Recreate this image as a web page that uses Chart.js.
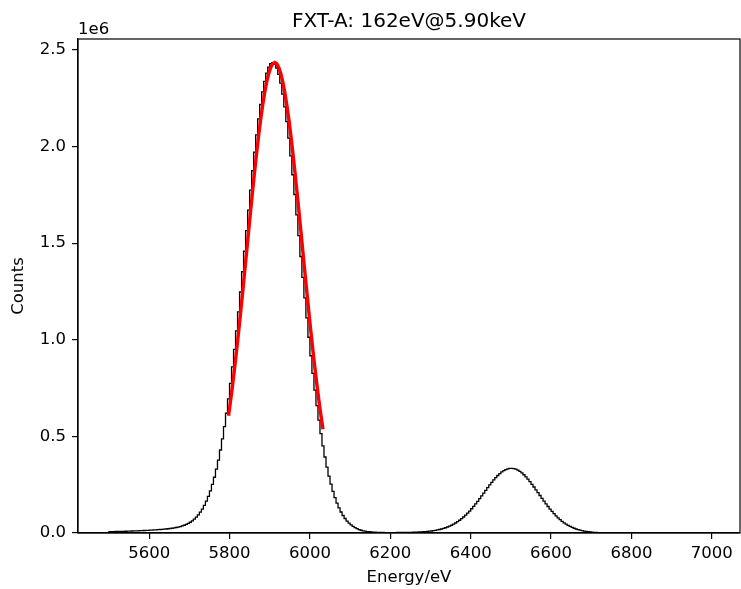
<!DOCTYPE html>
<html>
<head>
<meta charset="utf-8">
<script src="https://cdn.jsdelivr.net/npm/chart.js@4.4.1/dist/chart.umd.min.js"></script>
<style>
  body { margin: 0; background: #fff; }
  canvas { display: block; }
</style>
</head>
<body>
<canvas id="spectrum" width="741" height="589"></canvas>
<script>
// histogram: 5 eV bins starting at 5500 eV
const binStart = 5500;
const binWidth = 5;
const counts = [
  7000, 7200, 7400, 7600, 7800, 8000, 8250, 8500, 8750, 9000,
  9500, 9900, 10300, 10710, 11110, 11510, 12020, 12520, 13040, 13550,
  14070, 14700, 15340, 16000, 16670, 17370, 18100, 18870, 19800, 20700,
  21900, 23210, 24670, 26420, 28410, 30680, 33320, 36400, 40020, 44300,
  49450, 55650, 62950, 71570, 81710, 93610, 107560, 123860, 142800, 164590,
  189730, 218520, 251360, 288560, 330460, 377370, 429580, 487270, 550640, 619730,
  694550, 774590, 860070, 950610, 1045750, 1144920, 1247340, 1352180, 1458450, 1565050,
  1670960, 1774710, 1875170, 1970990, 2060900, 2143620, 2217920, 2282840, 2337240, 2380290,
  2411360, 2429560, 2435000, 2427360, 2406860, 2373690, 2328540, 2272140, 2205320, 2129120,
  2044100, 1952190, 1854470, 1752210, 1646760, 1539350, 1431250, 1323580, 1217440, 1113720,
  1013350, 917410, 826070, 739790, 658950, 583930, 514640, 451170, 393480, 341270,
  294460, 252660, 215660, 183120, 154730, 130090, 108800, 90560, 75060, 61910,
  50910, 41570, 33850, 27450, 22150, 17850, 14320, 11500, 9220, 7380,
  6460, 5320, 4480, 3830, 3330, 2940, 2650, 2490, 2390, 2330,
  2320, 2320, 2370, 2440, 2530, 2640, 2760, 2900, 3080, 3260,
  3470, 3690, 4090, 4510, 4980, 5490, 6060, 6710, 7450, 8300,
  9270, 10390, 11990, 13790, 15830, 18150, 20780, 23760, 27140, 30970,
  35290, 40150, 45600, 51680, 58430, 65890, 74080, 82840, 92380, 102680,
  113740, 125530, 137800, 150680, 164110, 177980, 192180, 206380, 220650, 234820,
  248720, 262200, 274870, 286760, 297700, 307520, 316090, 323050, 328510, 332360,
  334540, 335000, 333540, 330360, 325510, 319050, 311090, 301520, 290700, 278760,
  265870, 252200, 238120, 223620, 208850, 193980, 179180, 164780, 150710, 137080,
  124000, 111530, 99840, 88880, 78680, 69240, 60570, 52830, 45820, 39520,
  33890, 28890, 24540, 20730, 17410, 14540, 12070, 9990, 8220, 6730,
  5480, 4430, 3585, 2890, 2315, 1850, 1465, 1160, 915, 710,
  555, 420, 325, 250, 195, 150, 115, 87, 64, 46,
  31, 19, 14, 10, 7, 5, 4, 3, 2, 2,
  1, 1, 0, 0, 0, 0, 0, 0, 0, 0,
  0, 0, 0, 0, 0, 0, 0, 0, 0, 0,
  0, 0, 0, 0, 0, 0, 0, 0, 0, 0
];

// gaussian fit of the Mn K-alpha line
const fitEnergy = [
  5797.5, 5802.5, 5807.5, 5812.5, 5817.5, 5822.5, 5827.5, 5832.5, 5837.5, 5842.5,
  5847.5, 5852.5, 5857.5, 5862.5, 5867.5, 5872.5, 5877.5, 5882.5, 5887.5, 5892.5,
  5897.5, 5902.5, 5907.5, 5912.5, 5917.5, 5922.5, 5927.5, 5932.5, 5937.5, 5942.5,
  5947.5, 5952.5, 5957.5, 5962.5, 5967.5, 5972.5, 5977.5, 5982.5, 5987.5, 5992.5,
  5997.5, 6002.5, 6007.5, 6012.5, 6017.5, 6022.5, 6027.5, 6032.5
];
const fitCounts = [
  607170, 683330, 764970, 851920, 943760, 1040040, 1140210, 1243430, 1348820, 1455500,
  1562440, 1668440, 1772290, 1872730, 1968530, 2058380, 2141050, 2215410, 2280300, 2334820,
  2378140, 2409550, 2428620, 2435000, 2428620, 2409550, 2378140, 2334820, 2280300, 2215410,
  2141050, 2058380, 1968530, 1872730, 1772290, 1668440, 1562440, 1455500, 1348820, 1243430,
  1140210, 1040040, 943760, 851920, 764970, 683330, 607170, 536670
];

const xTicks = [5600, 5800, 6000, 6200, 6400, 6600, 6800, 7000];
const yTicks = [0, 500000, 1000000, 1500000, 2000000, 2500000];
const yTickLabels = ['0.0', '0.5', '1.0', '1.5', '2.0', '2.5'];

const titleText = 'FXT-A: 162eV@5.90keV';
const FONT = 'DejaVu Sans';

// step outline like matplotlib histtype='step'
const histPoints = [{ x: binStart, y: 0 }];
counts.forEach((c, i) => histPoints.push({ x: binStart + i * binWidth, y: c }));
const binEnd = binStart + counts.length * binWidth;
histPoints.push({ x: binEnd, y: counts[counts.length - 1] });
histPoints.push({ x: binEnd, y: 0 });

const fitPoints = fitEnergy.map((e, i) => ({ x: e, y: fitCounts[i] }));

const frameAndText = {
  id: 'frameAndText',
  afterDraw(chart) {
    const { ctx, chartArea: a } = chart;
    ctx.save();
    ctx.strokeStyle = '#000';
    ctx.lineWidth = 1.2;
    ctx.strokeRect(a.left, a.top, a.right - a.left, a.bottom - a.top);
    ctx.fillStyle = '#000';
    ctx.font = '20px "' + FONT + '"';
    ctx.textAlign = 'center';
    ctx.textBaseline = 'alphabetic';
    ctx.fillText(titleText, (a.left + a.right) / 2, 27);
    ctx.font = '16.5px "' + FONT + '"';
    ctx.textAlign = 'left';
    ctx.fillText('1e6', a.left, 34);
    ctx.restore();
  }
};

const ctx = document.getElementById('spectrum').getContext('2d');
new Chart(ctx, {
  type: 'line',
  data: {
    datasets: [
      {
        data: fitPoints,
        borderColor: '#ff0000',
        borderWidth: 3.4,
        pointRadius: 0,
        fill: false,
        tension: 0,
        order: 0
      },
      {
        data: histPoints,
        borderColor: '#000000',
        borderWidth: 1.3,
        pointRadius: 0,
        fill: false,
        stepped: 'after',
        order: 1
      }
    ]
  },
  plugins: [frameAndText],
  options: {
    responsive: false,
    animation: false,
    devicePixelRatio: 1,
    layout: { padding: { top: 39, right: 1, left: 0, bottom: 0 } },
    plugins: {
      legend: { display: false },
      title: { display: false },
      tooltip: { enabled: false }
    },
    scales: {
      x: {
        type: 'linear',
        min: 5423,
        max: 7070,
        afterFit(scale) { scale.height = 56; },
        afterBuildTicks(scale) { scale.ticks = xTicks.map(v => ({ value: v })); },
        grid: { display: true, drawOnChartArea: false, drawTicks: true, tickLength: 6, color: '#000', lineWidth: 1.2 },
        border: { display: true, color: '#000', width: 1.2 },
        ticks: {
          color: '#000',
          padding: 5,
          maxRotation: 0,
          font: { family: FONT, size: 16.5 },
          callback: v => String(v)
        },
        title: {
          display: true,
          text: 'Energy/eV',
          color: '#000',
          font: { family: FONT, size: 16.5, lineHeight: 1.2 },
          padding: { top: 0, bottom: 1 }
        }
      },
      y: {
        type: 'linear',
        min: 0,
        max: 2557000,
        afterFit(scale) { scale.width = 78; },
        afterBuildTicks(scale) { scale.ticks = yTicks.map(v => ({ value: v })); },
        grid: { display: true, drawOnChartArea: false, drawTicks: true, tickLength: 6, color: '#000', lineWidth: 1.2 },
        border: { display: true, color: '#000', width: 1.2 },
        ticks: {
          color: '#000',
          padding: 6,
          font: { family: FONT, size: 16.5 },
          callback: v => yTickLabels[yTicks.indexOf(v)]
        },
        title: {
          display: true,
          text: 'Counts',
          color: '#000',
          font: { family: FONT, size: 16.5, lineHeight: 1.2 },
          padding: { top: 9, bottom: 0 }
        }
      }
    }
  }
});
</script>
</body>
</html>
